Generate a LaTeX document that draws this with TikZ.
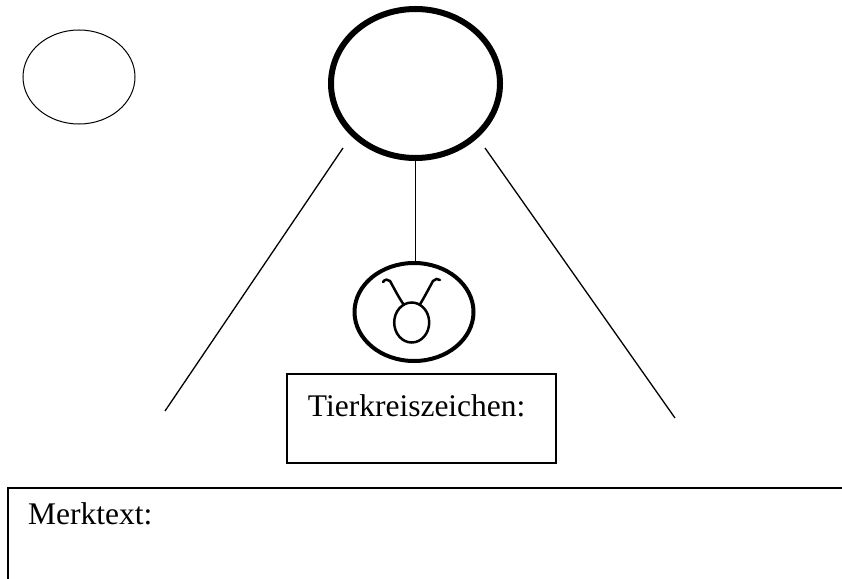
\documentclass[tikz,border=0pt]{standalone}
\usepackage{fontspec}
\setmainfont{Liberation Serif}
\usetikzlibrary{positioning,shapes.geometric}

\tikzset{
  kreis/.style={draw, ellipse, inner sep=0pt},
  feld/.style={draw, rectangle, line width=1.5pt, inner sep=0pt},
  schrift/.style={anchor=base west, inner sep=0pt, font=\fontsize{31.5}{36}\selectfont},
  strahl/.style={line width=1.3pt},
  zeichenstrich/.style={line width=2.5pt, line cap=round}
}

\begin{document}
\begin{tikzpicture}[x=1pt, y=-1pt]
	\useasboundingbox (0,0) rectangle (842,578);
	% Kreise
	\node [kreis, line width=1pt, minimum width=112, minimum height=94] (notiz) at (79,77) {};
	\node [kreis, line width=6pt, minimum width=169, minimum height=149] (bild) at (415.5,83.5) {};
	\node [kreis, line width=4pt, minimum width=119, minimum height=98] (sternbild) at (414,312) {};
	% Stier
	\draw [zeichenstrich] (411.7,322.5) ellipse [x radius=17.5, y radius=20];
	\draw [zeichenstrich] (383,282) .. controls (385,279) and (388,279) .. (390,281)
		.. controls (395,290) and (399,298) .. (404,305);
	\draw [zeichenstrich] (440,280) .. controls (438,278) and (435,279) .. (433,281)
		.. controls (428,290) and (424,298) .. (419.5,305);
	% Felder
	\node [feld, minimum width=269, minimum height=89] (zeichenfeld) at (421.5,418.5) {};
	\node [schrift] (zeichen) at (307.7,416) {Tierkreiszeichen:};
	\node [feld, anchor=north west, minimum width=880, minimum height=130] (merkfeld) at (7,487) {};
	\node [schrift] (merk) at (28,524) {Merktext:};
	% Linien
	\coordinate (lo) at (343,148);
	\coordinate (lu) at (165,411);
	\coordinate (ro) at (485,148);
	\coordinate (ru) at (675,418);
	\draw [strahl] (lo) -- (lu);
	\draw [strahl] (ro) -- (ru);
	\draw [strahl] (bild.south) -- (bild.south |- sternbild.north);
\end{tikzpicture}
\end{document}
